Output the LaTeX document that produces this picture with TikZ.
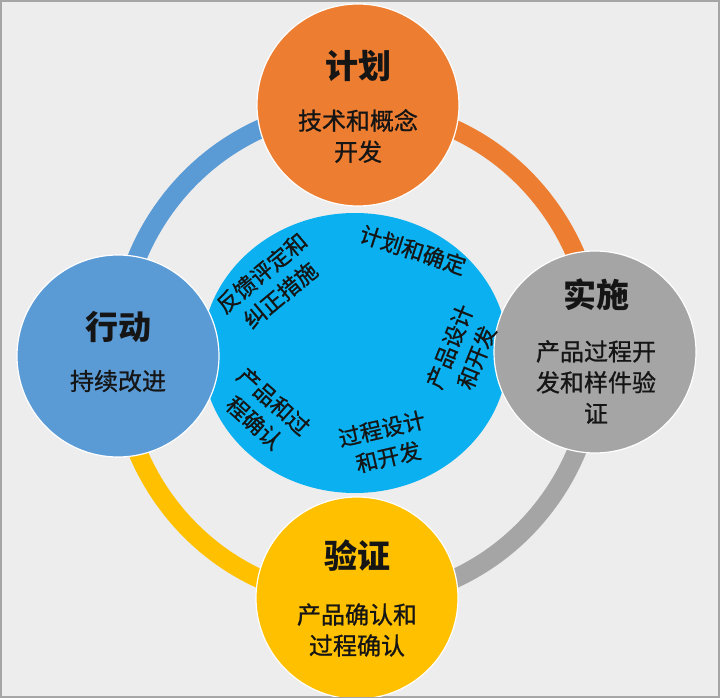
\documentclass[tikz,border=0pt]{standalone}
\usepackage{fontspec}
\setmainfont{Noto Sans CJK SC}
\newfontfamily\medfont[FakeBold=1]{Noto Sans CJK SC}
\usetikzlibrary{shapes.geometric,calc}
\definecolor{orangeC}{HTML}{ED7D31}
\definecolor{grayC}{HTML}{A5A5A5}
\definecolor{yellowC}{HTML}{FFC000}
\definecolor{blueC}{HTML}{5B9BD5}
\definecolor{cyanC}{HTML}{0AB0EF}
\definecolor{bgC}{HTML}{EDEDED}
\definecolor{txtC}{HTML}{151515}
\begin{document}
\begin{tikzpicture}[x=1pt,y=-1pt,
  bigcirc/.style={circle, minimum size=202pt, inner sep=0pt, draw=white, line width=1.2pt},
  ringarc/.style={line width=19pt},
  title/.style={text=txtC, font=\fontsize{33}{38}\selectfont\bfseries},
  sub/.style={text=txtC, align=center, font=\medfont\fontsize{24}{31}\selectfont},
  inner/.style={text=txtC, align=center, font=\medfont\fontsize{22}{29}\selectfont}]
\useasboundingbox (0,0) rectangle (720,698);
\fill[bgC] (0,0) rectangle (720,698);
\draw[gray!70, line width=2pt] (1,1) rectangle (719,697);
\begin{scope}
\clip (2,2) rectangle (718,696);
% ring
\coordinate (rc) at (357,354);
\draw[ringarc, blueC]   ($(rc)+(180:239 and 246)$) arc[start angle=180, end angle=270, x radius=239, y radius=246];
\draw[ringarc, orangeC] ($(rc)+(270:239 and 246)$) arc[start angle=270, end angle=360, x radius=239, y radius=246];
\draw[ringarc, grayC]   ($(rc)+(0:239 and 246)$) arc[start angle=0, end angle=90, x radius=239, y radius=246];
\draw[ringarc, yellowC] ($(rc)+(90:239 and 246)$) arc[start angle=90, end angle=180, x radius=239, y radius=246];
% core ellipse
\node[ellipse, minimum width=306pt, minimum height=280pt, inner sep=0pt, fill=cyanC] (core) at (355,353) {};
% circles
\node[bigcirc, fill=orangeC] (plan) at (358,105) {};
\node[bigcirc, fill=blueC]   (act)  at (118,356) {};
\node[bigcirc, fill=grayC]   (do)   at (595,352) {};
\node[bigcirc, fill=yellowC] (chk)  at (357,598) {};
\end{scope}
% circle texts
\node[title] (planT) at (358,66) {计划};
\node[sub]   (planS) at (358,136) {技术和概念\\开发};
\node[title] (actT) at (118,327) {行动};
\node[sub]   (actS) at (118,381) {持续改进};
\node[title] (doT) at (596,295) {实施};
\node[sub]   (doS) at (596,382) {产品过程开\\发和样件验\\证};
\node[title] (chkT) at (357,556) {验证};
\node[sub]   (chkS) at (357,630) {产品确认和\\过程确认};
% inner texts
\node[inner, rotate=40]  (in1) at (271,284) {反馈评定和\\纠正措施};
\node[inner, rotate=-18] (in2) at (413,250) {计划和确定};
\node[inner, rotate=68]  (in3) at (463,352) {产品设计\\和开发};
\node[inner, rotate=13]  (in4) at (385,443) {过程设计\\和开发};
\node[inner, rotate=-42] (in5) at (264,412) {产品和过\\程确认};
\end{tikzpicture}
\end{document}
